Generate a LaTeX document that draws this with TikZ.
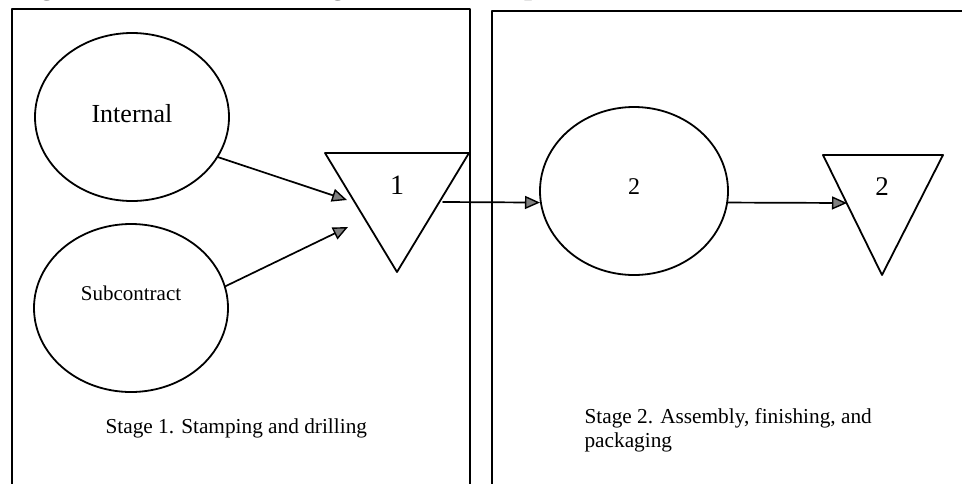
\documentclass[tikz,border=0pt]{standalone}
\usepackage{fontspec}
\setmainfont{Liberation Serif}
\usepackage{tikz}
\usetikzlibrary{arrows.meta,shapes.geometric}

\begin{document}
\begin{tikzpicture}[>=Stealth,line cap=round,line join=round,
 x=1pt,y=-1pt,
 stagebox/.style={line width=2pt},
 proc/.style={draw,ellipse,line width=1.8pt,inner sep=0pt},
 store/.style={line width=1.8pt},
 flow/.style={line width=1.7pt,
  -{Triangle[length=15pt,width=13pt,fill=black!50,line width=1.4pt]}}]
 \useasboundingbox (0,0) rectangle (962,483);
 \clip (0,0) rectangle (962,483);
 % Abgeschnittene Bildunterschrift oben.
 \node[anchor=base west,inner sep=0pt,
       font=\bfseries\fontsize{28.7}{30}\selectfont] (title)
  at (14.5,-5.5) {Figure\hspace{139pt}Two-stage model of the problem.};
 % Die beiden Stufen als Rahmen.
 \draw[stagebox] (12,9) rectangle (470,495);
 \draw[stagebox] (492,11) rectangle (975,495);
 % Stufe 1: Eigenfertigung und Fremdvergabe, Lager 1.
 \node[proc,minimum width=194pt,minimum height=168pt,text depth=8pt,
       font=\fontsize{26}{28}\selectfont] (int) at (132,117) {Internal};
 \node[proc,minimum width=194pt,minimum height=168pt,text depth=30pt,
       font=\fontsize{21}{24}\selectfont] (sub) at (131,308) {Subcontract};
 \draw[store] (325,153) -- (469,153) -- (397,272) -- cycle;
 \node[font=\fontsize{28}{30}\selectfont] (inv1) at (397,185) {1};
 \coordinate (in1) at (347,200);
 \coordinate (in2) at (348,227);
 \coordinate (out1) at (443,202);
 \draw[flow] (int.-25) -- (in1);
 \draw[flow] (sub.13) -- (in2);
 \node[anchor=base west,font=\fontsize{21.3}{24}\selectfont] (lab1)
  at (102,433) {Stage 1. Stamping and drilling};
 % Stufe 2: Montage, Lager 2.
 \node[proc,minimum width=188pt,minimum height=168pt] (asm) at (634,191) {};
 \node[font=\fontsize{24}{26}\selectfont] (asmlab) at (634,187) {2};
 \draw[store] (823,155) -- (943,155) -- (882,275) -- cycle;
 \node[font=\fontsize{27}{30}\selectfont] (inv2) at (882,187) {2};
 \coordinate (in3) at (847,203);
 \draw[flow] (out1) -- (asm.187);
 \draw[flow] (asm.-7) -- (in3);
 \node[anchor=base west,align=left,font=\fontsize{21.3}{24}\selectfont] (lab2)
  at (581,447) {Stage 2. Assembly, finishing, and\\packaging};
\end{tikzpicture}
\end{document}
